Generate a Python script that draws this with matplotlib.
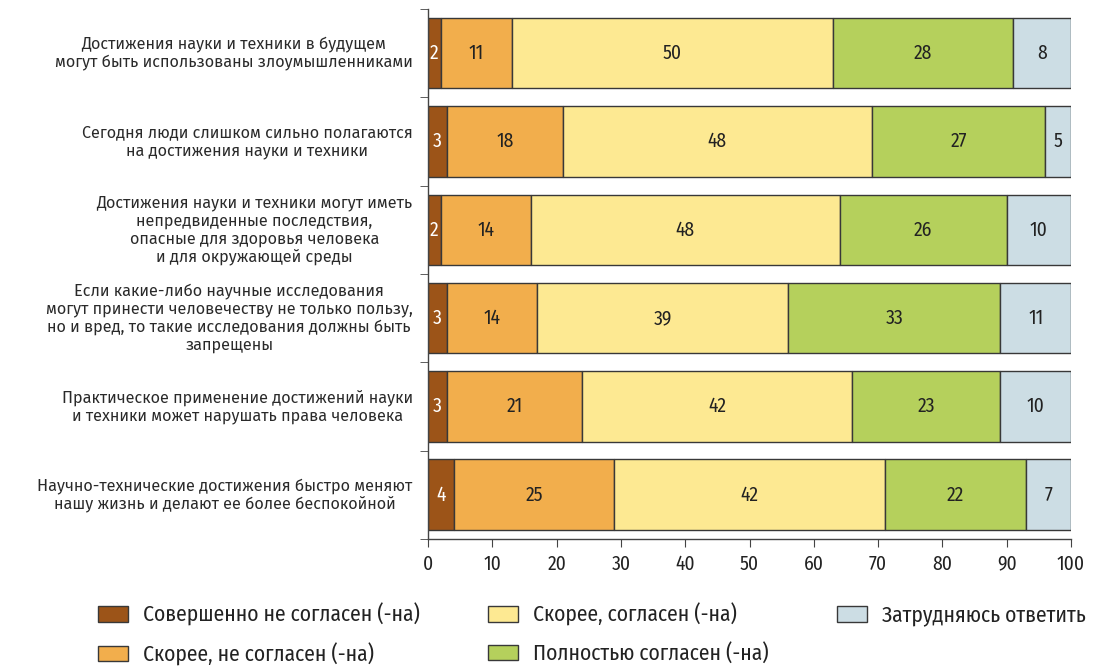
import matplotlib
matplotlib.use("Agg")
import matplotlib.pyplot as plt
from matplotlib.patches import Patch
import numpy as np

categories = [
    "Достижения науки и техники в будущем\nмогут быть использованы злоумышленниками",
    "Сегодня люди слишком сильно полагаются\nна достижения науки и техники",
    "Достижения науки и техники могут иметь\nнепредвиденные последствия,\nопасные для здоровья человека\nи для окружающей среды",
    "Если какие-либо научные исследования\nмогут принести человечеству не только пользу,\nно и вред, то такие исследования должны быть\nзапрещены",
    "Практическое применение достижений науки\nи техники может нарушать права человека",
    "Научно-технические достижения быстро меняют\nнашу жизнь и делают ее более беспокойной",
]
series_names = [
    "Совершенно не согласен (-на)",
    "Скорее, не согласен (-на)",
    "Скорее, согласен (-на)",
    "Полностью согласен (-на)",
    "Затрудняюсь ответить",
]
strongly_disagree = [2, 3, 2, 3, 3, 4]
rather_disagree = [11, 18, 14, 14, 21, 25]
rather_agree = [50, 48, 48, 39, 42, 42]
fully_agree = [28, 27, 26, 33, 23, 22]
hard_to_say = [8, 5, 10, 11, 10, 7]   # shown labels; bar fills the rest up to 100%
x_ticks = [0, 10, 20, 30, 40, 50, 60, 70, 80, 90, 100]

colors = ["#9C5418", "#F2AE4C", "#FDE992", "#B5D05C", "#CCDDE4"]
text_colors = ["white", "#222222", "#222222", "#222222", "#222222"]

NUM_FONT = ["Fira Sans Condensed", "DejaVu Sans"]
LBL_FONT = ["Fira Sans", "DejaVu Sans"]

fig = plt.figure(figsize=(10.99, 6.68), dpi=100)
ax = fig.add_axes([428 / 1099, 1 - 539 / 668, (1071 - 428) / 1099, (539 - 9) / 668])

series = [strongly_disagree, rather_disagree, rather_agree, fully_agree, hard_to_say]
y = np.arange(len(categories))
left = np.zeros(len(categories))
for i, (vals, col, tcol, name) in enumerate(zip(series, colors, text_colors, series_names)):
    labels = np.array(vals, dtype=float)
    widths = labels if i < len(series) - 1 else 100.0 - left
    ax.barh(y, widths, left=left, height=0.8, color=col, edgecolor="#383838",
            linewidth=1.0, label=name)
    for yi, (l, w, lab) in enumerate(zip(left, widths, labels)):
        ax.text(l + w / 2, yi, f"{int(lab)}", ha="center", va="center",
                fontsize=14, color=tcol, family=NUM_FONT)
    left += widths

ax.set_xlim(0, 100)
ax.set_ylim(5.5, -0.5)
ax.set_xticks(x_ticks)
ax.set_xticklabels([str(t) for t in x_ticks], family=NUM_FONT, fontsize=14, color="#222222")
ax.set_yticks(y)
ax.set_yticklabels([])
ax.set_yticks(np.arange(-0.5, 6.0, 1.0), minor=True)
ax.tick_params(axis="y", which="major", length=0)
ax.tick_params(axis="y", which="minor", length=6, direction="out", color="#444444")
ax.tick_params(axis="x", length=6, direction="out", color="#444444", pad=5)
for s in ["top", "right"]:
    ax.spines[s].set_visible(False)
for s in ["left", "bottom"]:
    ax.spines[s].set_color("#444444")
    ax.spines[s].set_linewidth(1.0)

for yi, lab in enumerate(categories):
    ax.annotate(lab, xy=(0, yi), xycoords=("axes fraction", "data"),
                xytext=(-11, 0), textcoords="offset points",
                ha="right", va="center", multialignment="center",
                fontsize=11.7, fontweight="normal", color="#2a2a2a",
                family=LBL_FONT, linespacing=1.14)

handles = [Patch(facecolor=c, edgecolor="#383838", linewidth=1.0) for c in colors]
fig.legend(handles, series_names, ncol=3, loc="upper left",
           bbox_to_anchor=(98 / 1099, 1 - 603 / 668), frameon=False,
           prop={"family": NUM_FONT, "size": 15.5}, labelcolor="#222222",
           handlelength=1.4, handleheight=0.75, columnspacing=3.15,
           labelspacing=0.75, handletextpad=0.7, borderpad=0, borderaxespad=0)

fig.savefig("out.png", dpi=100)
